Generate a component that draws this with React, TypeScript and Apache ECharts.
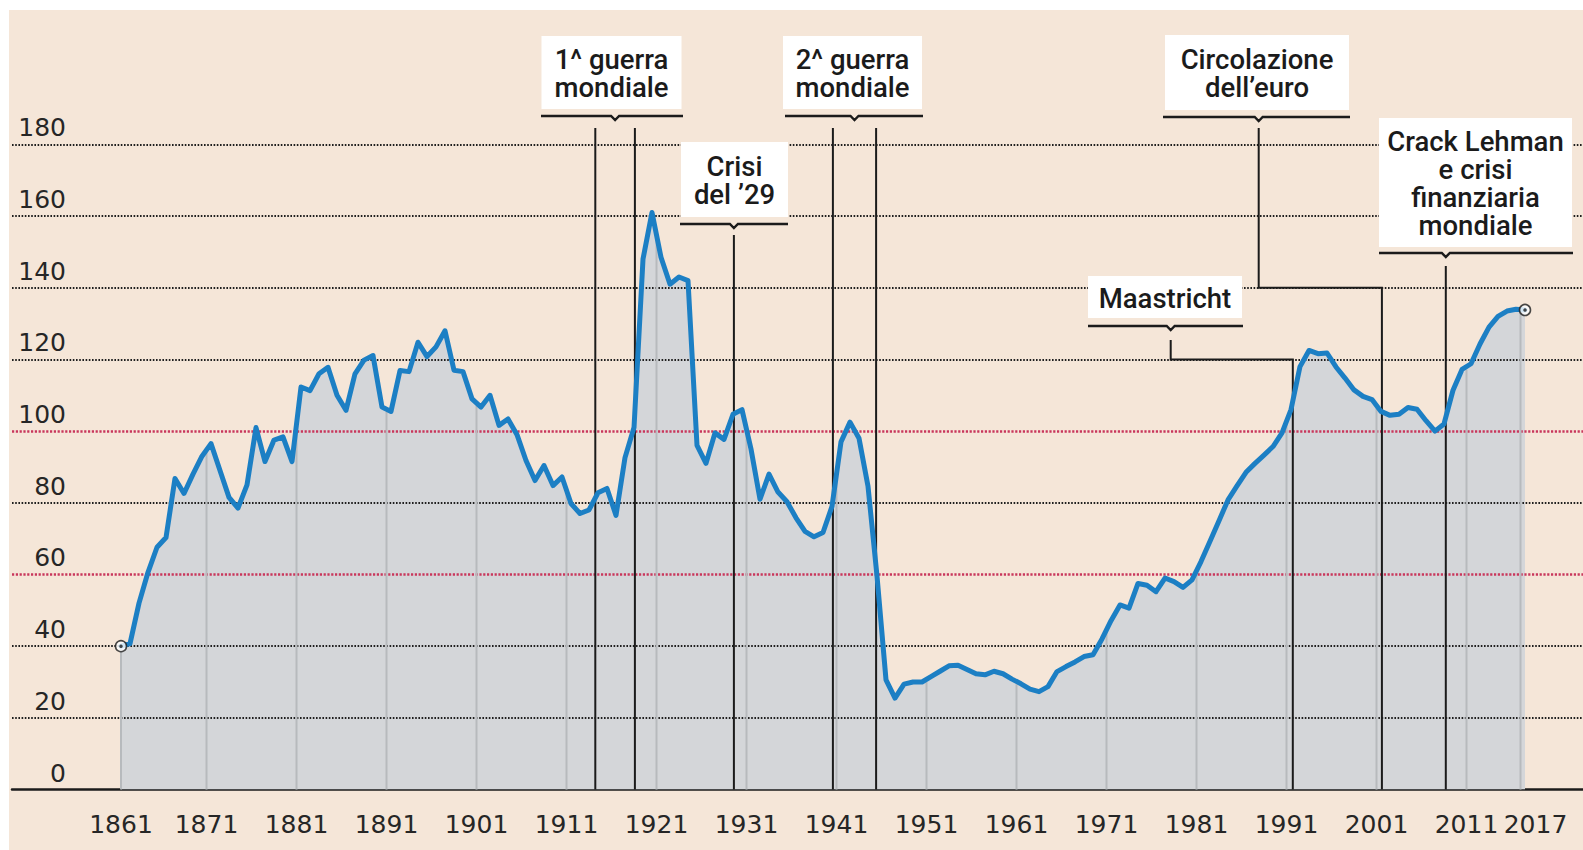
import React, { useEffect, useRef } from "react";
import * as echarts from "echarts";

// ---------------- DATA ----------------
const firstYear = 1861;

// Debt / GDP ratio (%), one value per year
const ratio1861to1900 = [
  40, 40.7, 52, 60.6, 67.6, 70.3, 86.8, 82.6, 88, 93,
  96.5, 89, 81.5, 78.5, 85, 101, 91.5, 97.5, 98.4, 91.5,
  112.3, 111.3, 116, 117.8, 110, 105.8, 116, 119.8, 121.1, 106.7,
  105.5, 116.9, 116.6, 124.8, 120.8, 123.5, 128, 117, 116.6, 109,
];
const ratio1901to1945 = [
  106.7, 110, 101.6, 103.4, 99, 91.8, 86.2, 90.4, 84.8, 87.2,
  79.8, 77, 78, 82.8, 84, 76.5, 92.6, 101, 148, 161,
  148.5, 141, 143, 142, 96, 91, 99.5, 97.7, 104.7, 106,
  95, 81, 88, 83, 80.3, 75.8, 72, 70.5, 71.7, 79,
  97, 102.5, 98, 84.6, 59.6,
];
const ratio1946to1990 = [
  30.6, 25.5, 29.4, 30, 30, 31.5, 33, 34.5, 34.7, 33.5,
  32.3, 32, 33, 32.3, 30.8, 29.5, 28, 27.3, 28.7, 32.9,
  34.3, 35.6, 37.1, 37.6, 42, 47.1, 51.5, 50.6, 57.5, 57,
  55.2, 59, 58, 56.4, 58.5, 63.6, 69.3, 75, 80.8, 84.7,
  88.5, 91, 93.3, 95.7, 99.5,
];
const ratio1991to2017 = [
  106, 118, 122.5, 121.6, 121.8, 117.9, 114.8, 111.5, 109.7, 108.8,
  105.5, 104.4, 104.7, 106.6, 106.1, 102.9, 100, 102, 111.4, 117.2,
  118.8, 124.3, 129, 132, 133.5, 134, 133.8,
];

const yTickValues = [0, 20, 40, 60, 80, 100, 120, 140, 160, 180];
const redReferenceValues = [60, 100];
const xTickYears = [1861, 1871, 1881, 1891, 1901, 1911, 1921, 1931, 1941, 1951, 1961, 1971, 1981, 1991, 2001, 2011, 2017];

const eventNames = [
  "1^ guerra\nmondiale",
  "Crisi\ndel \u201929",
  "2^ guerra\nmondiale",
  "Maastricht",
  "Circolazione\ndell\u2019euro",
  "Crack Lehman\ne crisi\nfinanziaria\nmondiale",
];
const eventYears = [[1914.2, 1918.6], [1929.6], [1940.6, 1945.4], [1991.7], [2001.6], [2008.7]];
const eventElbowValues: (number | null)[] = [null, null, null, 120, 140, null];

// ---------------- LAYOUT (pixels inside the chart) ----------------
const calloutLayout = [
  { box: [532.5, 26, 140, 73], bracketY: 106, bracketX: [532, 674], lineTop: 118, notchX: null as number | null },
  { box: [672, 132, 107, 75], bracketY: 214, bracketX: [671, 779], lineTop: 225, notchX: null },
  { box: [774, 26, 139, 73], bracketY: 106, bracketX: [776, 914], lineTop: 118, notchX: null },
  { box: [1079, 266, 154, 42], bracketY: 316, bracketX: [1079, 1234], lineTop: 330, notchX: 1161.7 },
  { box: [1156, 25, 184, 75], bracketY: 107, bracketX: [1154, 1341], lineTop: 118, notchX: 1249.7 },
  { box: [1370, 108, 193, 129], bracketY: 243, bracketX: [1370, 1564], lineTop: 256, notchX: null },
];

const BG = "#f5e6d8";
const AREA = "#d4d6d9";
const BLUE = "#1c7fc4";
const RED = "#c9375c";
const INK = "#1b1b1b";
const AXIS_FONT = "'DejaVu Sans', sans-serif";
const BOX_FONT = "Roboto, 'Noto Sans', sans-serif";

export default function App() {
  const ref = useRef<HTMLDivElement>(null);

  useEffect(() => {
    if (!ref.current) return;
    const chart = echarts.init(ref.current, undefined, { renderer: "svg" });

    const debtRatio = [...ratio1861to1900, ...ratio1901to1945, ...ratio1946to1990, ...ratio1991to2017];
    // values plotted at mid-year
    const points = debtRatio.map((v, i) => [firstYear + i + 0.5, v]);
    const firstX = points[0][0];
    const lastX = points[points.length - 1][0];

    const interp = (t: number) => {
      for (let i = 0; i < points.length - 1; i++) {
        const [x0, y0] = points[i];
        const [x1, y1] = points[i + 1];
        if (t >= x0 && t <= x1) return y0 + ((y1 - y0) * (t - x0)) / (x1 - x0);
      }
      return t < firstX ? points[0][1] : points[points.length - 1][1];
    };

    const tickPositions = xTickYears.map((y) => Math.min(Math.max(y, firstX), lastX));
    const mainTicks = tickPositions.slice(0, -1);
    const endTick = tickPositions.slice(-1);
    const decadeLines = tickPositions.map((t) => [t, interp(t) - 0.8]);

    const gridMarks = [
      ...yTickValues
        .filter((v) => v !== 0 && !redReferenceValues.includes(v))
        .map((v) => ({ yAxis: v, lineStyle: { color: "#1e1e1e", width: 1.8, type: [1.6, 1.6] } })),
      ...redReferenceValues.map((v) => ({ yAxis: v, lineStyle: { color: RED, width: 2.6, type: [2.2, 1.6] } })),
    ];

    const labelBase = { fontFamily: AXIS_FONT, fontSize: 25, lineHeight: 25, color: "#262626" };
    const xMin = 1849.389;
    const xMax = 2023.944;

    const option: any = {
      animation: false,
      backgroundColor: BG,
      grid: { left: 3, right: 0, top: 134.4, bottom: 60.5, containLabel: false },
      xAxis: [
        {
          type: "value",
          min: xMin,
          max: xMax,
          axisLine: { show: true, lineStyle: { color: INK, width: 2.5 } },
          axisTick: { show: false },
          splitLine: { show: false },
          axisLabel: {
            customValues: mainTicks,
            hideOverlap: false,
            formatter: (v: number) => String(Math.floor(v)),
            ...labelBase,
            margin: 22,
          },
        },
        {
          type: "value",
          position: "bottom",
          offset: 0,
          min: xMin,
          max: xMax,
          axisLine: { show: false },
          axisTick: { show: false },
          splitLine: { show: false },
          axisLabel: {
            customValues: endTick,
            hideOverlap: false,
            formatter: (v: number) => `{end|${Math.floor(v)}}`,
            ...labelBase,
            margin: 22,
            rich: { end: { ...labelBase, padding: [0, 0, 0, 30] } },
          },
        },
      ],
      yAxis: {
        type: "value",
        min: 0,
        max: 180,
        interval: 20,
        axisLine: { show: false },
        axisTick: { show: false },
        splitLine: { show: false },
        axisLabel: {
          inside: true,
          margin: 54,
          align: "right",
          verticalAlign: "bottom",
          ...labelBase,
          padding: [0, 0, 4, 0],
        },
      },
      series: [
        {
          type: "line",
          data: points,
          symbol: "none",
          silent: true,
          lineStyle: { width: 0 },
          areaStyle: { color: AREA, opacity: 1 },
          z: 1,
        },
        {
          type: "line",
          data: points,
          symbol: "none",
          silent: true,
          lineStyle: { width: 0, opacity: 0 },
          z: 2,
          markLine: {
            silent: true,
            z: 2,
            symbol: ["none", "none"],
            label: { show: false },
            data: gridMarks,
          },
        },
        {
          type: "custom",
          data: decadeLines,
          silent: true,
          z: 3,
          renderItem: (_p: any, api: any) => {
            const x = api.value(0);
            const y = api.value(1);
            const p0 = api.coord([x, 0]);
            const p1 = api.coord([x, y]);
            return {
              type: "line",
              shape: { x1: p0[0], y1: p0[1], x2: p1[0], y2: p1[1] },
              style: { stroke: "#b7babd", lineWidth: 2 },
            };
          },
        },
        {
          type: "line",
          data: points,
          symbol: "none",
          silent: true,
          lineStyle: { color: BLUE, width: 5, join: "round", cap: "round" },
          z: 5,
        },
        {
          type: "scatter",
          data: [points[0], points[points.length - 1]],
          symbol: "circle",
          symbolSize: 11,
          silent: true,
          itemStyle: { color: "#ffffff", borderColor: INK, borderWidth: 1.6 },
          z: 6,
        },
        {
          type: "scatter",
          data: [points[0], points[points.length - 1]],
          symbol: "circle",
          symbolSize: 3.5,
          silent: true,
          itemStyle: { color: INK },
          z: 7,
        },
      ],
    };

    chart.setOption(option);

    const px = (x: number, y: number) =>
      chart.convertToPixel({ xAxisIndex: 0, yAxisIndex: 0 }, [x, y]) as number[];
    const baseY = px(1900, 0)[1];

    const graphic: any[] = [];
    eventNames.forEach((name, i) => {
      const lay = calloutLayout[i];
      const xs = eventYears[i].map((t) => px(t, 0)[0]);
      const notchX = lay.notchX != null ? lay.notchX : xs.reduce((a, b) => a + b, 0) / xs.length;
      const [bx, by, bw, bh] = lay.box;
      graphic.push({
        type: "rect",
        z: 10,
        silent: true,
        shape: { x: bx, y: by, width: bw, height: bh },
        style: { fill: "#ffffff" },
      });
      graphic.push({
        type: "text",
        z: 11,
        silent: true,
        x: bx + bw / 2,
        y: by + bh / 2 + 1,
        style: {
          text: name,
          fill: INK,
          fontFamily: BOX_FONT,
          fontWeight: 500,
          fontSize: 27.5,
          lineHeight: 28,
          align: "center",
          verticalAlign: "middle",
        },
      });
      const yB = lay.bracketY;
      graphic.push({
        type: "polyline",
        z: 10,
        silent: true,
        shape: {
          points: [
            [lay.bracketX[0], yB],
            [notchX - 4, yB],
            [notchX, yB + 4],
            [notchX + 4, yB],
            [lay.bracketX[1], yB],
          ],
        },
        style: { stroke: INK, lineWidth: 2.4, fill: "none" },
      });
      const elbow = eventElbowValues[i];
      if (elbow != null) {
        const ey = px(2000, elbow)[1];
        graphic.push({
          type: "polyline",
          z: 4,
          silent: true,
          shape: {
            points: [
              [notchX, lay.lineTop],
              [notchX, ey],
              [xs[0], ey],
              [xs[0], baseY],
            ],
          },
          style: { stroke: INK, lineWidth: 2, fill: "none" },
        });
      } else {
        xs.forEach((x) => {
          graphic.push({
            type: "line",
            z: 4,
            silent: true,
            shape: { x1: x, y1: lay.lineTop, x2: x, y2: baseY },
            style: { stroke: INK, lineWidth: 2 },
          });
        });
      }
    });

    chart.setOption({ graphic });

    return () => chart.dispose();
  }, []);

  return (
    <div
      ref={ref}
      style={{ position: "absolute", left: 9, top: 10, width: 1574, height: 840 }}
    />
  );
}
